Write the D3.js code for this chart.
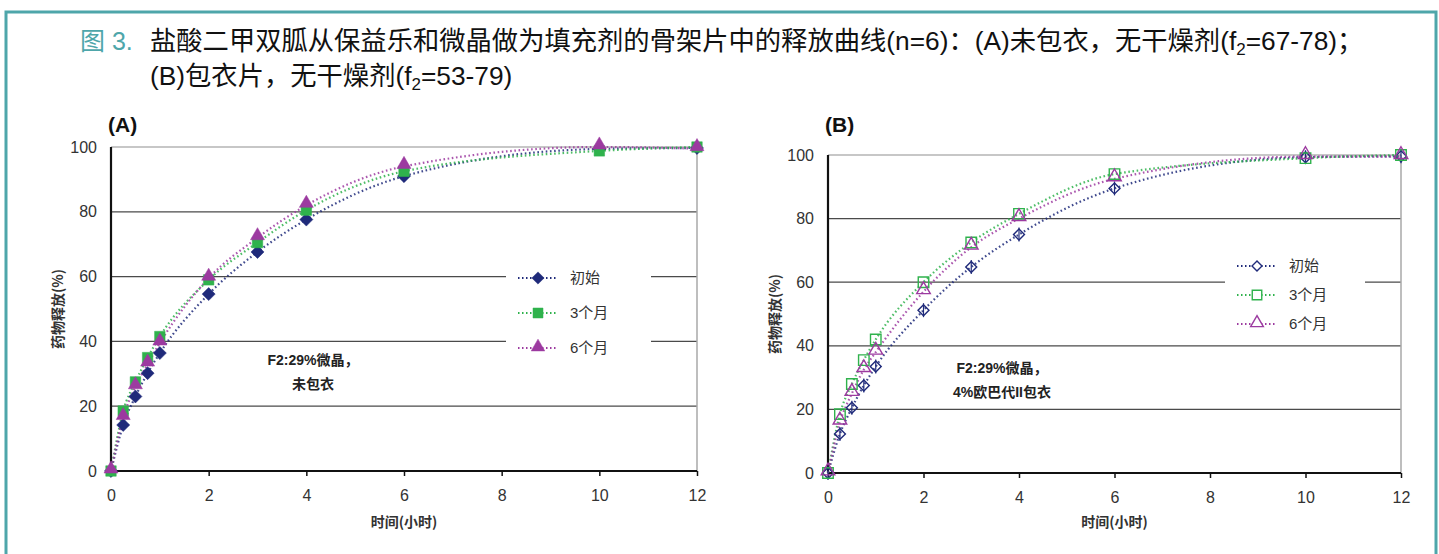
<!DOCTYPE html>
<html>
<head>
<meta charset="utf-8">
<script src="https://cdn.jsdelivr.net/npm/d3@7"></script>
<style>
  body { margin: 0; background: #fff; }
  svg { display: block; font-family: "Liberation Sans", Arial, sans-serif; }
</style>
</head>
<body>
<svg id="fig" width="1439" height="554"></svg>
<script>
// time points (hours)
const times = [0, 0.25, 0.5, 0.75, 1, 2, 3, 4, 6, 10, 12];
const xTicks = [0, 2, 4, 6, 8, 10, 12];
const yTicks = [0, 20, 40, 60, 80, 100];
const seriesNames = ['初始', '3个月', '6个月'];

// panel A: uncoated
const aInitial = [0, 14.2, 23, 30.2, 36.4, 54.6, 67.6, 77.6, 91, 99.4, 99.7];
const a3Month  = [0, 18.5, 27.5, 35, 41.5, 59, 70.5, 80.5, 92.5, 98.8, 100];
const a6Month  = [0, 16.5, 26, 33, 39.5, 59.5, 72, 82, 94, 100, 99.5];

// panel B: coated
const bInitial = [0, 12.3, 20.5, 27.5, 33.5, 51.2, 64.8, 75, 89.5, 99.3, 99.6];
const b3Month  = [0, 18.5, 28, 35.5, 42, 60, 72.5, 81.5, 94, 99, 100];
const b6Month  = [0, 16, 25, 32.5, 38, 57, 71, 80, 92.5, 99.5, 99.5];

const colors = ['#1f2a7a', '#2fb24c', '#9c3aa0'];
const shapes = [d3.symbolSquare, d3.symbolSquare, d3.symbolTriangle];
const rotations = [45, 0, 0];

const svg = d3.select('#fig');
const capFont = '"Liberation Sans", "Noto Sans CJK SC", sans-serif';

// teal frame
svg.append('rect')
    .attr('x', 6).attr('y', 12)
    .attr('width', 1430).attr('height', 560)
    .attr('fill', 'none')
    .attr('stroke', '#4ea6aa')
    .attr('stroke-width', 3);

// caption
svg.append('text')
    .attr('x', 80).attr('y', 50)
    .attr('font-size', 25)
    .attr('font-family', capFont)
    .attr('fill', '#4ea6aa')
    .text('图 3.');

let cap = svg.append('text')
    .attr('x', 150).attr('y', 50)
    .attr('font-size', 26.3)
    .attr('fill', '#111')
    .attr('font-family', capFont);
cap.append('tspan').text('盐酸二甲双胍从保益乐和微晶做为填充剂的骨架片中的释放曲线(n=6)：(A)未包衣，无干燥剂(f');
cap.append('tspan').attr('font-size', 17).attr('dy', 5).text('2');
cap.append('tspan').attr('dy', -5).text('=67-78)；');

let cap2 = svg.append('text')
    .attr('x', 150).attr('y', 85)
    .attr('font-size', 26.3)
    .attr('fill', '#111')
    .attr('font-family', capFont);
cap2.append('tspan').text('(B)包衣片，无干燥剂(f');
cap2.append('tspan').attr('font-size', 17).attr('dy', 5).text('2');
cap2.append('tspan').attr('dy', -5).text('=53-79)');

function drawPanel(cfg) {
    let g = svg.append('g');
    let x = d3.scaleLinear().domain([0, 12]).range([cfg.left, cfg.right]);
    let y = d3.scaleLinear().domain([0, 100]).range([cfg.bottom, cfg.top]);

    // grid lines
    g.selectAll('.grid')
        .data(yTicks.filter(t => t > 0))
        .join('line')
        .attr('x1', cfg.left).attr('x2', cfg.right)
        .attr('y1', d => y(d)).attr('y2', d => y(d))
        .attr('stroke', d => d === 100 ? '#b5b5b5' : '#4a4a4a')
        .attr('stroke-width', d => d === 100 ? 1.5 : 1.3);

    // right border
    g.append('line')
        .attr('x1', cfg.right).attr('x2', cfg.right)
        .attr('y1', y(100)).attr('y2', cfg.bottom)
        .attr('stroke', '#a8a8a8').attr('stroke-width', 1.5);

    // legend background hides grid
    let lg = cfg.legend;
    g.append('rect')
        .attr('x', lg.x - 12).attr('y', lg.y - 22)
        .attr('width', lg.w).attr('height', lg.gap * 3 + 10)
        .attr('fill', '#fff');

    // axes
    let xAxis = g.append('g')
        .attr('transform', `translate(0,${cfg.bottom})`)
        .call(d3.axisBottom(x).tickValues(xTicks).tickSize(5).tickPadding(14));
    let yAxis = g.append('g')
        .attr('transform', `translate(${cfg.left},0)`)
        .call(d3.axisLeft(y).tickValues(yTicks).tickSize(0).tickPadding(14));
    for (let ax of [xAxis, yAxis]) {
        ax.select('.domain').attr('stroke', '#111').attr('stroke-width', 2.2);
        ax.selectAll('.tick line').attr('stroke', '#111').attr('stroke-width', 1.5);
        ax.selectAll('text')
            .attr('font-size', 16)
            .attr('fill', '#333')
            .attr('font-family', '"Liberation Sans", Arial, sans-serif');
    }
    xAxis.select('.domain').attr('d', `M${cfg.left},0H${cfg.right}`);
    yAxis.select('.domain').attr('d', `M0,${cfg.bottom}V${y(100)}`);

    // titles
    g.append('text')
        .attr('x', cfg.left - 3).attr('y', 132)
        .attr('font-size', 21).attr('font-weight', 'bold')
        .attr('fill', '#111')
        .text(cfg.label);
    g.append('text')
        .attr('x', (cfg.left + cfg.right) / 2).attr('y', 527)
        .attr('text-anchor', 'middle')
        .attr('font-size', 14).attr('font-weight', 'bold')
        .attr('fill', '#333')
        .attr('font-family', '"Noto Sans CJK SC", sans-serif')
        .text('时间(小时)');
    g.append('text')
        .attr('transform', `translate(${cfg.left - 48},${(cfg.top + cfg.bottom) / 2}) rotate(-90)`)
        .attr('text-anchor', 'middle')
        .attr('font-size', 14).attr('font-weight', 'bold')
        .attr('fill', '#333')
        .attr('font-family', '"Noto Sans CJK SC", sans-serif')
        .text('药物释放(%)');

    // annotation
    cfg.note.forEach((t, i) => {
        g.append('text')
            .attr('x', cfg.noteX).attr('y', cfg.noteY + i * 24)
            .attr('text-anchor', 'middle')
            .attr('font-size', 14).attr('font-weight', 'bold')
            .attr('fill', '#222')
            .attr('font-family', '"Liberation Sans", "Noto Sans CJK SC", sans-serif')
            .text(t);
    });

    // curves
    let line = d3.line()
        .x((d, i) => x(times[i]))
        .y(d => y(d))
        .curve(d3.curveMonotoneX);
    cfg.series.forEach((s, k) => {
        g.append('path')
            .attr('d', line(s))
            .attr('fill', 'none')
            .attr('stroke', colors[k])
            .attr('stroke-width', 2.2)
            .attr('stroke-dasharray', '1.6,2.6')
            .attr('opacity', 0.85);
    });

    // markers
    let sizes = cfg.open ? [60, 110, 80] : [85, 110, 85];
    cfg.series.forEach((s, k) => {
        let sym = d3.symbol().type(shapes[k]).size(sizes[k]);
        let mk = g.append('g');
        s.forEach((v, i) => {
            let px = x(times[i]), py = y(v);
            if (cfg.open && k === 0) {
                mk.append('line')
                    .attr('x1', px).attr('x2', px)
                    .attr('y1', py - 7).attr('y2', py + 7)
                    .attr('stroke', colors[k]).attr('stroke-width', 1.2);
            }
            mk.append('path')
                .attr('d', sym())
                .attr('transform', `translate(${px},${py + (k === 2 ? -2 : 0)}) rotate(${rotations[k]})`)
                .attr('fill', cfg.open ? 'none' : colors[k])
                .attr('stroke', colors[k])
                .attr('stroke-width', cfg.open ? 1.4 : 0.5);
        });
    });

    // legend
    seriesNames.forEach((name, k) => {
        let ly = lg.y + k * lg.gap;
        g.append('line')
            .attr('x1', lg.x).attr('x2', lg.x + 40)
            .attr('y1', ly).attr('y2', ly)
            .attr('stroke', colors[k]).attr('stroke-width', 2)
            .attr('stroke-dasharray', '1.5,2.5');
        g.append('path')
            .attr('d', d3.symbol().type(shapes[k]).size(cfg.open ? [50, 90, 70][k] : [75, 100, 80][k])())
            .attr('transform', `translate(${lg.x + 20},${ly + (k === 2 ? -1 : 0)}) rotate(${rotations[k]})`)
            .attr('fill', cfg.open ? '#fff' : colors[k])
            .attr('stroke', colors[k])
            .attr('stroke-width', cfg.open ? 1.4 : 0.5);
        g.append('text')
            .attr('x', lg.x + 52).attr('y', ly + 5)
            .attr('font-size', 15)
            .attr('fill', '#333')
            .attr('font-family', '"Liberation Sans", "Noto Sans CJK SC", sans-serif')
            .text(name);
    });
}

drawPanel({
    label: '(A)', left: 111, right: 697, top: 147, bottom: 471,
    series: [aInitial, a3Month, a6Month], open: false,
    legend: {x: 518, y: 278, gap: 35, w: 145},
    note: ['F2:29%微晶，', '未包衣'], noteX: 313, noteY: 365
});

drawPanel({
    label: '(B)', left: 828, right: 1401, top: 155, bottom: 473,
    series: [bInitial, b3Month, b6Month], open: true,
    legend: {x: 1237, y: 266, gap: 29, w: 140},
    note: ['F2:29%微晶，', '4%欧巴代II包衣'], noteX: 1002, noteY: 373
});
</script>
</body>
</html>
